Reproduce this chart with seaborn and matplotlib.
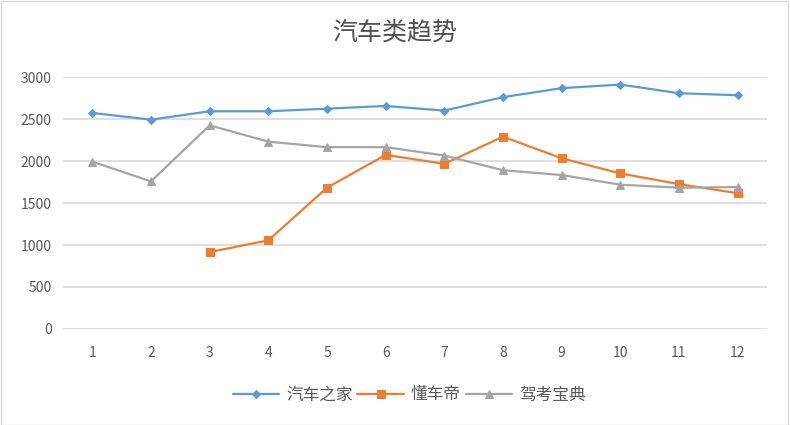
import numpy as np
import pandas as pd
import matplotlib.pyplot as plt
import seaborn as sns

# -----------------------------
# Data
# -----------------------------
months = [1, 2, 3, 4, 5, 6, 7, 8, 9, 10, 11, 12]
qichezhijia = [2572, 2492, 2592, 2592, 2623, 2655, 2600, 2760, 2867, 2910, 2807, 2783]
dongchedi = [np.nan, np.nan, 916, 1056, 1682, 2073, 1966, 2290, 2032, 1852, 1725, 1617]
jiakaobaodian = [1992, 1757, 2425, 2230, 2165, 2165, 2065, 1890, 1833, 1718, 1682, 1690]

series_names = ["汽车之家", "懂车帝", "驾考宝典"]
series_values = [qichezhijia, dongchedi, jiakaobaodian]
colors = ["#5B9BD5", "#ED7D31", "#A5A5A5"]
markers = ["D", "s", "^"]
marker_sizes = [4.5, 6, 6]

sns.set_style("white")
plt.rcParams["font.family"] = ["Noto Sans CJK SC", "DejaVu Sans"]

fig = plt.figure(figsize=(7.9, 4.25), dpi=100)
ax = fig.add_axes([63 / 790, 1 - 329 / 425, (767 - 63) / 790, (329 - 77) / 425])

for name, vals, c, m, ms in zip(series_names, series_values, colors, markers, marker_sizes):
    df = pd.DataFrame({"month": months, "value": vals}).dropna()
    sns.lineplot(data=df, x="month", y="value", ax=ax, color=c, marker=m,
                 markersize=ms, markeredgecolor=c, linewidth=1.6, label=name)

ax.set_xlim(0.5, 12.5)
ax.set_ylim(0, 3000)
ax.set_xticks(months)
ax.set_yticks(range(0, 3001, 500))
ax.set_xlabel("")
ax.set_ylabel("")
ax.grid(True, axis="y", color="#D9D9D9", linewidth=1.2)
ax.set_axisbelow(True)
for s in ["top", "right", "left", "bottom"]:
    ax.spines[s].set_visible(False)
ax.tick_params(axis="both", length=0, labelsize=10, labelcolor="#595959", pad=8)
ax.tick_params(axis="x", pad=12)

fig.text(0.5, 1 - 33 / 425, "汽车类趋势", ha="center", va="center",
         fontsize=18, color="#505050")

ax.legend(loc="center", bbox_to_anchor=(409 / 790, 1 - 395 / 425),
          bbox_transform=fig.transFigure, ncol=3, frameon=False,
          fontsize=12, labelcolor="#595959", handlelength=2.8,
          handletextpad=0.4, columnspacing=0.3)

# light border around figure
fig.patches.append(plt.Rectangle((0.001, 0.001), 0.997, 0.997, transform=fig.transFigure,
                                 fill=False, edgecolor="#D9D9D9", linewidth=1))

fig.savefig("out.png", dpi=100)
